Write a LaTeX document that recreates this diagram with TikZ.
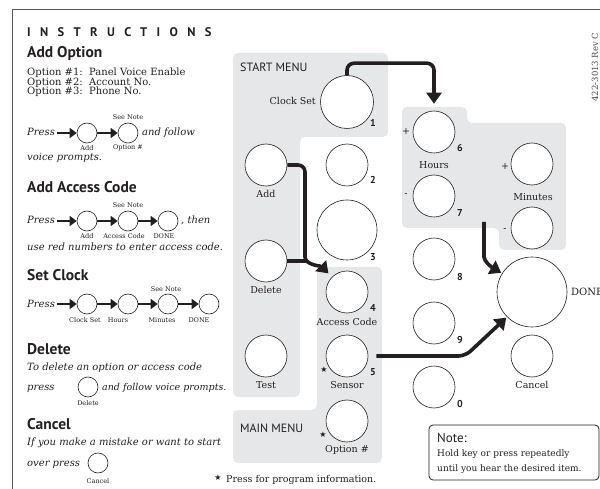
\documentclass[tikz,border=0pt]{standalone}
\usepackage{fontspec}
\setmainfont{DejaVu Serif}
\setsansfont{PT Sans}
\newfontfamily\symfont{DejaVu Sans}
\usetikzlibrary{arrows.meta}
\definecolor{panel}{RGB}{230,231,233}
\definecolor{ink}{RGB}{35,31,32}

\begin{document}
\begin{tikzpicture}[x=1pt, y=-1pt, color=ink,
                    btn/.style={circle, draw, fill=white, line width=0.6pt, inner sep=0pt, minimum size=#1},
                    num/.style={font=\sffamily\bfseries\fontsize{10}{10}\selectfont, inner sep=0pt},
                    lbl/.style={font=\fontsize{9.5}{10}\selectfont, inner sep=0pt},
                    smalllbl/.style={font=\fontsize{6.5}{7}\selectfont, inner sep=0pt},
                    txt/.style={font=\fontsize{10}{10}\selectfont, inner sep=0pt, anchor=base west},
                    itxt/.style={font=\itshape\fontsize{10}{10}\selectfont, inner sep=0pt, anchor=base west},
                    head/.style={font=\sffamily\bfseries\fontsize{15.5}{15.5}\selectfont, inner sep=0pt, anchor=base west},
                    menu/.style={font=\sffamily\fontsize{12}{12}\selectfont, inner sep=0pt, anchor=base west},
                    star/.style={font=\symfont\fontsize{8}{8}\selectfont, inner sep=0pt},
                    flow/.style={line width=3.6pt, rounded corners=7pt, -{Triangle[length=11pt,width=15pt]}},
                    mini/.style={line width=2.4pt, -{Triangle[length=7pt,width=10pt]}}]
                        \useasboundingbox (0,0) rectangle (600,489);
                        \clip (0,0) rectangle (600,489);

                        \draw[black!65, line width=1pt] (12,489) -- (12,10) -- (600,10);

                        \fill[panel, rounded corners=5pt] (233,53) -- (388,53) -- (388,137) -- (300,137) -- (300,397) -- (233,397) -- cycle;
                        \fill[panel, rounded corners=5pt] (317,267) -- (382,267) -- (382,463) -- (233,463) -- (233,410) -- (317,410) -- cycle;
                        \fill[panel, rounded corners=5pt] (402,107) -- (467,107) -- (467,123) -- (566,123) -- (566,250) -- (499,250) -- (499,228) -- (402,228) -- cycle;

                        \node[head, font=\sffamily\bfseries\fontsize{12.5}{12.5}\selectfont\addfontfeatures{LetterSpace=75}] (title) at (27,37) {INSTRUCTIONS};

                        \node[head] (h1) at (27,58) {Add Option};
                        \node[txt] (op1) at (27,76) {Option \#1:\ \ Panel Voice Enable};
                        \node[txt] (op2) at (27,85.5) {Option \#2:\ \ Account No.};
                        \node[txt] (op3) at (27,95) {Option \#3:\ \ Phone No.};
                        \coordinate (s1) at (57,133);
                        \node[btn=20] (ao1) at (87,133) {};
                        \node[btn=20] (ao2) at (128,133) {};
                        \draw[mini] (s1) -- (ao1);
                        \draw[mini] (ao1) -- (ao2);
                        \node[itxt] (pr1) at (27,136) {Press};
                        \node[smalllbl] (sn1) at (128,117) {See Note};
                        \node[smalllbl] (la1) at (87,148) {Add};
                        \node[smalllbl] (la2) at (128,148) {Option \#};
                        \node[itxt] (af1) at (142,136) {and follow};
                        \node[itxt] (vp1) at (27,161) {voice prompts.};

                        \node[head] (h2) at (27,193) {Add Access Code};
                        \coordinate (s2) at (57,221);
                        \node[btn=20] (ac1) at (87,221) {};
                        \node[btn=20] (ac2) at (128,221) {};
                        \node[btn=20] (ac3) at (168,221) {};
                        \draw[mini] (s2) -- (ac1);
                        \draw[mini] (ac1) -- (ac2);
                        \draw[mini] (ac2) -- (ac3);
                        \node[itxt] (pr2) at (27,224) {Press};
                        \node[smalllbl] (sn2) at (128,205) {See Note};
                        \node[itxt] (th) at (181,224) {, then};
                        \node[smalllbl] (lb1) at (87,236) {Add};
                        \node[smalllbl] (lb2) at (124,236) {Access Code};
                        \node[smalllbl] (lb3) at (164,236) {DONE};
                        \node[itxt] (rn) at (27,251) {use red numbers to enter access code.};

                        \node[head] (h3) at (27,280) {Set Clock};
                        \coordinate (s3) at (57,304);
                        \node[btn=20] (sc1) at (87,304) {};
                        \node[btn=20] (sc2) at (128,304) {};
                        \node[btn=20] (sc3) at (168,304) {};
                        \node[btn=20] (sc4) at (209,304) {};
                        \draw[mini] (s3) -- (sc1);
                        \draw[mini] (sc1) -- (sc2);
                        \draw[mini] (sc2) -- (sc3);
                        \draw[mini] (sc3) -- (sc4);
                        \node[itxt] (pr3) at (27,307) {Press};
                        \node[smalllbl] (sn3) at (166,289) {See Note};
                        \node[smalllbl] (lc1) at (85,320) {Clock Set};
                        \node[smalllbl] (lc2) at (118,320) {Hours};
                        \node[smalllbl] (lc3) at (162,320) {Minutes};
                        \node[smalllbl] (lc4) at (199,320) {DONE};

                        \node[head] (h4) at (27,354) {Delete};
                        \node[itxt] (dl1) at (27,370) {To delete an option or access code};
                        \node[itxt] (dl2) at (27,390) {press};
                        \node[btn=20] (dl) at (88,387) {};
                        \node[itxt, font=\itshape\fontsize{9.5}{10}\selectfont] (dl3) at (102,390) {and follow voice prompts.};
                        \node[smalllbl] (dlb) at (88,403) {Delete};

                        \node[head] (h5) at (27,429) {Cancel};
                        \node[itxt] (cn1) at (27,445) {If you make a mistake or want to start};
                        \node[itxt] (cn2) at (27,466) {over press};
                        \node[btn=20] (cn) at (98,463) {};
                        \node[smalllbl] (cnb) at (98,481) {Cancel};
                        \node[star] (st0) at (218,478) {★};
                        \node[txt, font=\fontsize{9.5}{10}\selectfont] (foot) at (226,482) {Press for program information.};

                        \node[btn=53] (clock) at (347,102) {};
                        \node[btn=42] (add) at (266,165) {};
                        \node[btn=42] (two) at (347,165) {};
                        \node[btn=60] (three) at (347,230) {};
                        \node[btn=42] (delete) at (266,261) {};
                        \node[btn=42] (test) at (266,356) {};
                        \node[btn=42] (acc) at (347,292) {};
                        \node[btn=42] (sensor) at (347,356) {};
                        \node[btn=42] (opt) at (347,421) {};
                        \node[btn=42] (hplus) at (434,132) {};
                        \node[btn=42] (hminus) at (434,196) {};
                        \node[btn=42] (mplus) at (532,164) {};
                        \node[btn=42] (mminus) at (532,228) {};
                        \node[btn=42] (eight) at (434,259) {};
                        \node[btn=42] (nine) at (434,323) {};
                        \node[btn=42] (zero) at (434,387) {};
                        \node[btn=70] (done) at (532,292) {};
                        \node[btn=42] (cancel) at (532,356) {};

                        \node[num] (n1) at (373,123) {1};
                        \node[num] (n2) at (373,180) {2};
                        \node[num] (n3) at (373,257) {3};
                        \node[num] (n4) at (373,308) {4};
                        \node[num] (n5) at (373,372) {5};
                        \node[num] (n6) at (460,148) {6};
                        \node[num] (n7) at (460,213) {7};
                        \node[num] (n8) at (460,277) {8};
                        \node[num] (n9) at (460,340) {9};
                        \node[num] (n0) at (460,404) {0};

                        \node[menu] (smenu) at (240,72) {START MENU};
                        \node[menu] (mmenu) at (240,432) {MAIN MENU};
                        \node[lbl, anchor=east] (lclock) at (316,101) {Clock Set};
                        \node[lbl] (ladd) at (266,194) {Add};
                        \node[lbl] (ldel) at (266,290) {Delete};
                        \node[lbl] (ltest) at (266,385) {Test};
                        \node[lbl] (lacc) at (347,322) {Access Code};
                        \node[lbl] (lsen) at (347,385) {Sensor};
                        \node[lbl] (lopt) at (347,450) {Option \#};
                        \node[star] (st1) at (324,370) {★};
                        \node[star] (st2) at (323,435) {★};
                        \node[lbl] (hp) at (406,132) {+};
                        \node[lbl] (hm) at (406,195) {-};
                        \node[lbl] (mp) at (505,167) {+};
                        \node[lbl] (mm) at (505,230) {-};
                        \node[lbl] (lhrs) at (434,165) {Hours};
                        \node[lbl] (lmin) at (533,197) {Minutes};
                        \node[lbl, anchor=west, font=\fontsize{10}{10}\selectfont] (ldone) at (571,292) {DONE};
                        \node[lbl] (lcan) at (532,385) {Cancel};
                        \node[lbl, rotate=90, text=black!70, font=\fontsize{8.5}{9}\selectfont] (rev) at (595,67) {422-3013 Rev C};

                        \draw[flow, shorten >=7pt] (clock.north) -- ++(0,-12) -| (hplus);
                        \draw[flow, shorten >=5pt] (add.east) -| (305,250) to[out=-90, in=135] (acc.north west);
                        \coordinate (join) at (307,261);
                        \draw[line width=3.6pt] (delete.east) -- (join);
                        \draw[flow, shorten <=8pt, shorten >=1pt] (sensor.east) -- ++(97,0) -- (done.south west);
                        \coordinate (hrsout) at (484,222);
                        \draw[flow, shorten >=1pt] (hrsout) -- ++(0,28) to[out=-90, in=150] (done.148);

                        \draw[line width=0.8pt, rounded corners=4pt] (429,425) rectangle (599,480);
                        \node[head, font=\sffamily\fontsize{13}{13}\selectfont] (notehd) at (437,442) {Note:};
                        \node[txt, font=\fontsize{9}{9}\selectfont] (nt1) at (437,456) {Hold key or press repeatedly};
                        \node[txt, font=\fontsize{9}{9}\selectfont] (nt2) at (437,471) {until you hear the desired item.};
                    \end{tikzpicture}
\end{document}
